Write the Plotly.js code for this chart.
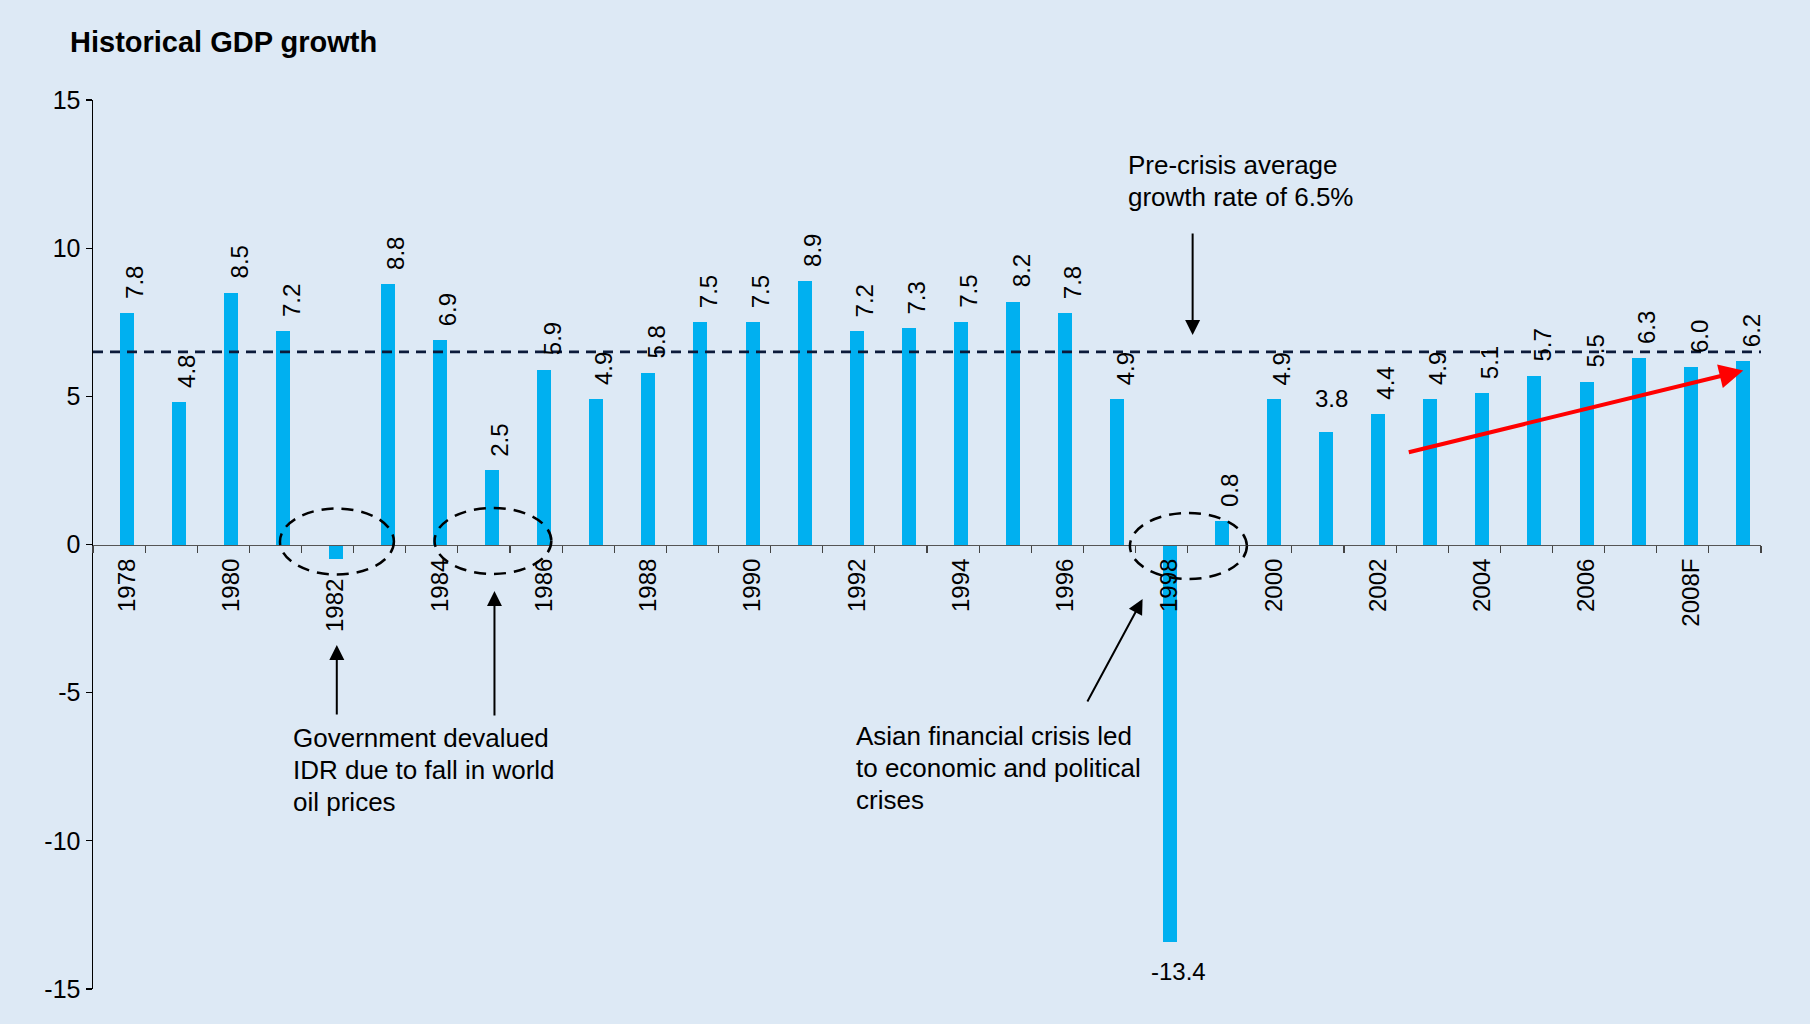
<!DOCTYPE html>
<html>
<head>
<meta charset="utf-8">
<script src="https://cdn.plot.ly/plotly-3.0.1.min.js"></script>
<style>html,body{margin:0;padding:0;background:#DDE9F5;}</style>
</head>
<body>
<div id="chart" style="width:1810px;height:1024px;"></div>
<script>
// ---- data ----
const years = ['1978','1979','1980','1981','1982','1983','1984','1985','1986','1987',
  '1988','1989','1990','1991','1992','1993','1994','1995','1996','1997',
  '1998','1999','2000','2001','2002','2003','2004','2005','2006','2007','2008F','2009F'];
const growth = [7.8,4.8,8.5,7.2,-0.5,8.8,6.9,2.5,5.9,4.9,
  5.8,7.5,7.5,8.9,7.2,7.3,7.5,8.2,7.8,4.9,
  -13.4,0.8,4.9,3.8,4.4,4.9,5.1,5.7,5.5,6.3,6.0,6.2];
const xTickLabels = ['1978','','1980','','1982','','1984','','1986','',
  '1988','','1990','','1992','','1994','','1996','',
  '1998','','2000','','2002','','2004','','2006','','2008F',''];
const yTickVals = [-15,-10,-5,0,5,10,15];
const yTickText = ['-15','-10','-5','0','5','10','15'];
const preCrisisAverage = 6.5;
const chartTitle = 'Historical GDP growth';
const noteAverage = ['Pre-crisis average', 'growth rate of 6.5%'];
const noteDevalue = ['Government devalued', 'IDR due to fall in world', 'oil prices'];
const noteAsian = ['Asian financial crisis led', 'to economic and political', 'crises'];

// ---- styling ----
const FONT = 'Liberation Sans, Arial, Helvetica, sans-serif';
const BG = '#DDE9F5';
const BAR = '#00B0F0';
const horizontalLabels = new Set(['2001','1998']);
const hiddenLabels = new Set(['1982']);
const lowerTickLabels = new Set(['1982']);

const tickText = xTickLabels.map((t, i) =>
  lowerTickLabels.has(years[i]) ? t + '\u00a0\u00a0\u00a0' : t);

const trace = {
  type: 'bar',
  x: years,
  y: growth,
  width: 0.27,
  offset: 0.018,
  marker: {color: BAR, line: {width: 0}},
  hoverinfo: 'skip',
  cliponaxis: false
};

const labelFont = {family: FONT, size: 24, color: '#000'};
const annotations = [];
growth.forEach((v, i) => {
  const yr = years[i];
  if (hiddenLabels.has(yr)) return;
  const label = v.toFixed(1);
  if (horizontalLabels.has(yr)) {
    annotations.push({
      x: i, y: v, xref: 'x', yref: 'y', text: label, showarrow: false,
      xanchor: 'center', yanchor: v >= 0 ? 'bottom' : 'top',
      xshift: v >= 0 ? 14 : 17, yshift: v >= 0 ? 18 : -14,
      font: labelFont
    });
  } else {
    annotations.push({
      x: i, y: v, xref: 'x', yref: 'y', text: label, showarrow: false,
      textangle: -90, xanchor: 'center', yanchor: v >= 0 ? 'bottom' : 'top',
      xshift: 16, yshift: v >= 0 ? 12 : -8,
      font: labelFont
    });
  }
});

// text notes, one line each for exact line spacing
const noteFont = {family: FONT, size: 26, color: '#000'};
const LINE_PX = 32;
function addNote(lines, x, yTopPx) {
  lines.forEach((line, k) => {
    annotations.push({x: x, y: yTopPx, xref: 'x', yref: 'paper', text: line, showarrow: false,
      xanchor: 'left', yanchor: 'middle', align: 'left', yshift: -k * LINE_PX, font: noteFont});
  });
}
// y given as paper fraction of first line center (plot spans 100..989 px)
const pyToPaper = py => (989 - py) / 889;
addNote(noteAverage, 19.316, pyToPaper(165));
addNote(noteDevalue, 3.306, pyToPaper(738));
addNote(noteAsian, 14.10, pyToPaper(736));

// arrows
const arrow = (x, y, ax, ay, color, w, size) => ({
  x: x, y: y, xref: 'x', yref: 'y', ax: ax, ay: ay, axref: 'pixel', ayref: 'pixel',
  text: '', showarrow: true, arrowhead: 2, arrowsize: size, arrowwidth: w,
  arrowcolor: color, standoff: 0, startstandoff: 0
});
annotations.push(arrow(20.596, 7.07, 0, -103, '#000', 2, 1.5));
annotations.push(arrow(4.177, -3.39, 0, 71, '#000', 2, 1.5));
annotations.push(arrow(7.202, -1.57, 0, 126, '#000', 2, 1.5));
annotations.push(arrow(19.636, -1.84, -56, 104, '#000', 2, 1.5));
annotations.push(arrow(31.16, 5.87, -336, 82, '#FF0000', 4, 1.2));

const ellipse = (cx, cy, hx, hy) => ({
  type: 'circle', xref: 'x', yref: 'y',
  x0: cx - hx, x1: cx + hx, y0: cy - hy, y1: cy + hy,
  line: {color: '#000', width: 2.5, dash: '12px,8px'}, fillcolor: 'rgba(0,0,0,0)'
});

const shapes = [
  {type: 'line', xref: 'paper', yref: 'y', x0: 0, x1: 1, y0: preCrisisAverage, y1: preCrisisAverage,
   line: {color: '#0B1A3A', width: 2.8, dash: '10px,7px'}},
  ellipse(4.18, 0.10, 1.093, 1.114),
  ellipse(7.173, 0.12, 1.12, 1.114),
  ellipse(20.515, -0.05, 1.122, 1.114)
];

const layout = {
  width: 1810, height: 1024,
  paper_bgcolor: BG, plot_bgcolor: BG,
  margin: {l: 93, r: 49, t: 100, b: 35, pad: 0},
  showlegend: false,
  font: {family: FONT, size: 25, color: '#000'},
  title: {
    text: chartTitle, xref: 'container', yref: 'container',
    x: 70/1810, xanchor: 'left', y: 1 - 42/1024, yanchor: 'middle',
    font: {family: FONT, size: 29, weight: 700, color: '#000'}
  },
  xaxis: {
    type: 'category', range: [-0.5, 31.5],
    tickmode: 'array', tickvals: years, ticktext: tickText,
    tickson: 'boundaries', ticks: 'outside', ticklen: 7, tickwidth: 1.2, tickcolor: '#444',
    showline: true, linecolor: '#555', linewidth: 1.5,
    anchor: 'free', position: 0.5,
    tickangle: -90, ticklabelshift: 8, ticklabelstandoff: 3,
    tickfont: {family: FONT, size: 24, color: '#000'},
    showgrid: false, zeroline: false, fixedrange: true
  },
  yaxis: {
    range: [-15, 15], tickmode: 'array', tickvals: yTickVals, ticktext: yTickText,
    ticks: 'outside', ticklen: 6, tickwidth: 1.2, tickcolor: '#000',
    showline: true, linecolor: '#000', linewidth: 1.5,
    tickfont: {family: FONT, size: 25, color: '#000'},
    showgrid: false, zeroline: false, fixedrange: true
  },
  bargap: 0,
  annotations: annotations,
  shapes: shapes
};

Plotly.newPlot('chart', [trace], layout, {displayModeBar: false, staticPlot: true});
</script>
</body>
</html>
